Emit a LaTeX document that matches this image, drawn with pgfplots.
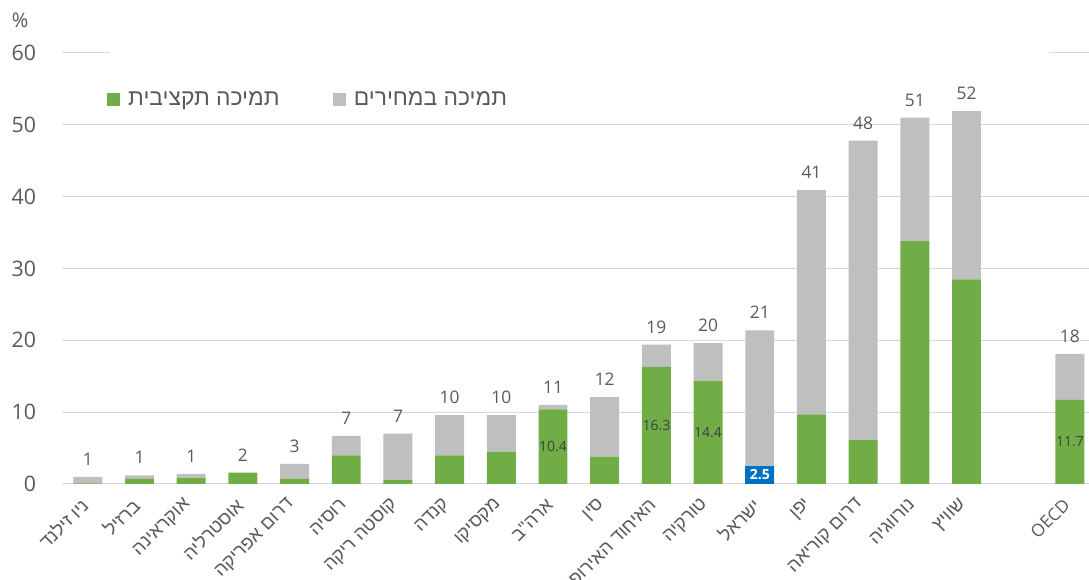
\documentclass[border=0pt]{standalone}
\usepackage{fontspec}
\setmainfont{Open Sans}
\newfontfamily\heb[Script=Hebrew, Scale=1.07]{Liberation Sans}
\TeXXeTstate=1
\usepackage{pgfplots}
\usepackage{pgfplotstable}
\pgfplotsset{compat=1.18}
\definecolor{barGreen}{HTML}{70AD47}
\definecolor{barGray}{HTML}{BFBFBF}
\definecolor{labGray}{HTML}{595959}
\definecolor{gridGray}{HTML}{D9D9D9}
\definecolor{innerGray}{HTML}{404040}
\definecolor{isrBlue}{HTML}{0070C0}

\pgfplotstableread{
x green gray top tot
0 0.1 0.9 1.0 1
1 0.7 0.5 1.2 1
2 0.9 0.5 1.4 1
3 1.6 0.0 1.6 2
4 0.7 2.1 2.8 3
5 4.0 2.7 6.7 7
6 0.6 6.4 7.0 7
7 4.0 5.6 9.6 10
8 4.5 5.1 9.6 10
9 10.4 0.6 11.0 11
10 3.8 8.3 12.1 12
11 16.3 3.1 19.4 19
12 14.4 5.2 19.6 20
13 2.5 18.9 21.4 21
14 9.7 31.2 40.9 41
15 6.1 41.7 47.8 48
16 33.8 17.2 51.0 51
17 28.5 23.4 51.9 52
19 11.7 6.4 18.1 18
}\data

\pgfplotstableread{
x y lab
9 5.2 10.4
11 8.15 16.3
12 7.2 14.4
19 5.85 11.7
}\inner

\begin{document}
\begin{tikzpicture}
\begin{axis}[
  scale only axis, width=770.25pt, height=323.25pt,
  ybar stacked, bar width=0.56,
  xmin=-0.5, xmax=19.37, ymin=0, ymax=60,
  clip=false,
  axis line style={draw=none},
  major tick length=0pt,
  ytick={0,10,...,60},
  ymajorgrids, grid style={line width=0.75pt, draw=gridGray},
  xtick={0,1,2,3,4,5,6,7,8,9,10,11,12,13,14,15,16,17,19},
  xticklabels={
    {\heb\beginR ניו זילנד\endR},
    {\heb\beginR ברזיל\endR},
    {\heb\beginR אוקראינה\endR},
    {\heb\beginR אוסטרליה\endR},
    {\heb\beginR דרום אפריקה\endR},
    {\heb\beginR רוסיה\endR},
    {\heb\beginR קוסטה ריקה\endR},
    {\heb\beginR קנדה\endR},
    {\heb\beginR מקסיקו\endR},
    {\heb\beginR ארה"ב\endR},
    {\heb\beginR סין\endR},
    {\heb\beginR האיחוד האירופי\endR},
    {\heb\beginR טורקיה\endR},
    {\heb\beginR ישראל\endR},
    {\heb\beginR יפן\endR},
    {\heb\beginR דרום קוריאה\endR},
    {\heb\beginR נורווגיה\endR},
    {\heb\beginR שוויץ\endR},
    {OECD}},
  xticklabel shift=11pt,
  xticklabel style={rotate=45, anchor=east, font=\fontsize{13}{15}\selectfont, text=labGray},
  yticklabel style={font=\fontsize{16}{19}\selectfont, text=labGray, xshift=-16pt},
  /pgf/number format/assume math mode=true,
  legend columns=2,
  legend style={at={(axis cs:0.37,53.5)}, anchor=west, draw=none, fill=none, inner sep=0pt,
    font=\fontsize{16}{18}\selectfont, text=labGray,
    nodes={inner sep=0pt},
    /tikz/every odd column/.append style={column sep=6pt},
    /tikz/every even column/.append style={column sep=40pt}},
  legend image code/.code={\fill[#1] (0pt,-4.9pt) rectangle (9.75pt,4.9pt);},
]
\fill[white] (axis cs:0.43,59.5) rectangle (axis cs:18.6,60.5);
\addplot[fill=barGreen, draw=none] table[x=x, y=green] {\data};
\addlegendentry{\heb\beginR תמיכה תקציבית\endR}
\addplot[fill=barGray, draw=none] table[x=x, y=gray] {\data};
\addlegendentry{\heb\beginR תמיכה במחירים\endR}
\end{axis}
\begin{axis}[
  scale only axis, width=770.25pt, height=323.25pt,
  xmin=-0.5, xmax=19.37, ymin=0, ymax=60,
  clip=false, hide axis,
]
\addplot[draw=none, mark=none, point meta=explicit symbolic, nodes near coords,
  nodes near coords style={font=\fontsize{13}{15}\selectfont, text=labGray, anchor=south, yshift=5pt}]
  table[x=x, y=top, meta=tot] {\data};
\addplot[draw=none, mark=none, point meta=explicit symbolic, nodes near coords,
  nodes near coords style={anchor=center, font=\fontsize{10.5}{12}\selectfont, text=innerGray}]
  table[x=x, y=y, meta=lab] {\inner};
\addplot[draw=none, mark=none, point meta=explicit symbolic, nodes near coords,
  nodes near coords style={anchor=center, font=\bfseries\fontsize{10.5}{12}\selectfont, text=white, fill=isrBlue, minimum width=21.75pt, minimum height=13.5pt, inner sep=0pt}]
  coordinates {(13,1.25) [2.5]};
\end{axis}
\node[font=\fontsize{15}{18}\selectfont, text=labGray] at ([shift={(-31.5pt,24.75pt)}]current axis.north west) {\%};
\pgfresetboundingbox
\path[use as bounding box] ([shift={(-46.5pt,-72pt)}]current axis.south west) rectangle ([shift={(0pt,39.75pt)}]current axis.north east);
\end{tikzpicture}
\end{document}
